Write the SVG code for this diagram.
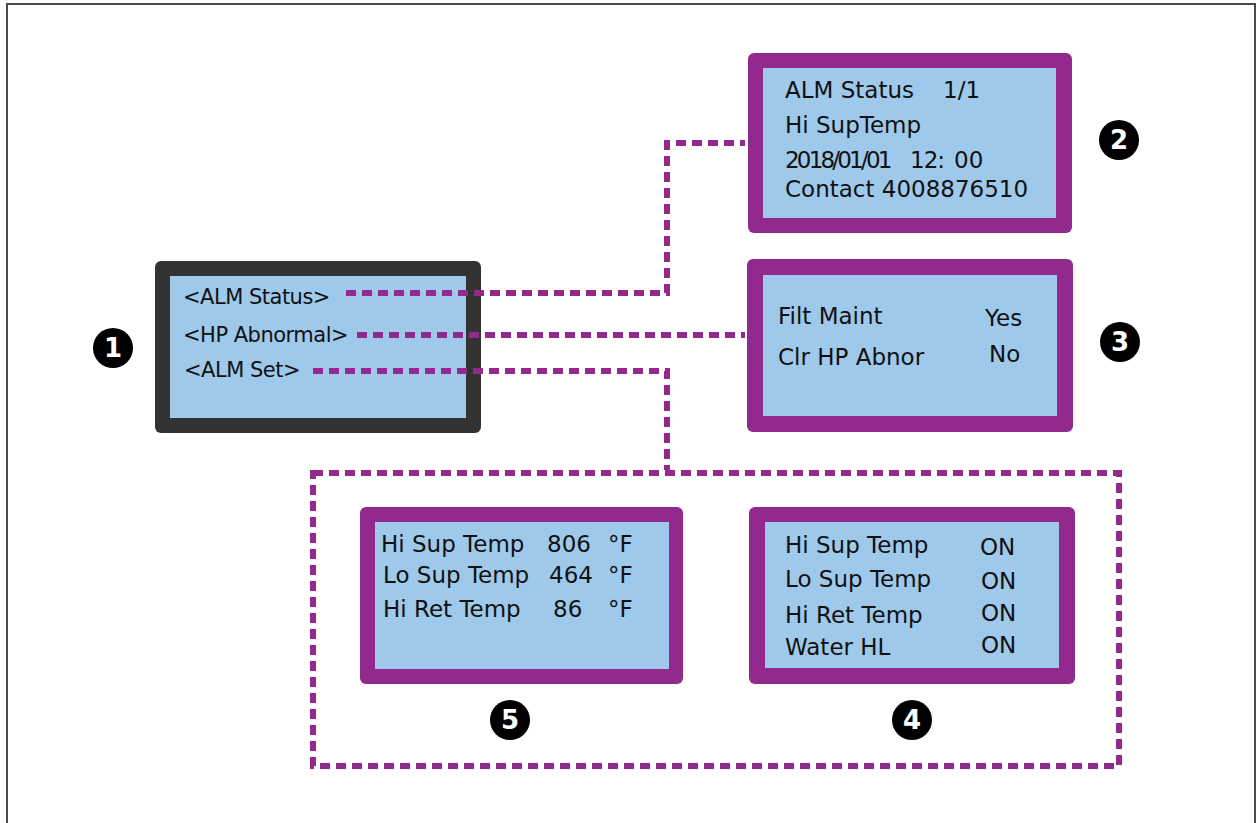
<svg xmlns="http://www.w3.org/2000/svg" width="1257" height="823" viewBox="0 0 1257 823">
<style>
.frame{fill:none;stroke:#4a4a4a;stroke-width:2}
.outer-p{fill:#92298C}
.outer-d{fill:#333333}
.screen{fill:#9FC9EB}
.lcd{font-family:"DejaVu Sans",sans-serif;font-size:23px;fill:#111}
.menu{font-size:21px;letter-spacing:-0.5px}
.dash{fill:none;stroke:#92298C;stroke-width:6;stroke-dasharray:10 6}
.badge{fill:#000}
.num{font-family:"DejaVu Sans",sans-serif;font-weight:bold;font-size:26px;fill:#fff;text-anchor:middle}
</style>
<rect class="frame" x="7" y="4" width="1248" height="840"/>
<g id="node1">
<rect class="outer-d" x="155" y="261" width="326" height="172" rx="6"/>
<rect class="screen" x="170" y="276" width="296" height="142"/>
<text class="lcd menu" x="183" y="304">&lt;ALM Status&gt;</text>
<text class="lcd menu" x="183" y="342">&lt;HP Abnormal&gt;</text>
<text class="lcd menu" x="184" y="377">&lt;ALM Set&gt;</text>
</g>
<g id="node2">
<rect class="outer-p" x="748" y="53" width="324" height="180" rx="6"/>
<rect class="screen" x="763" y="68" width="293" height="150"/>
<text class="lcd" x="785" y="98">ALM Status</text>
<text class="lcd" x="943" y="98">1/1</text>
<text class="lcd" x="785" y="133">Hi SupTemp</text>
<text class="lcd" x="785" y="168" letter-spacing="-2.8">2018/01/01</text>
<text class="lcd" x="910" y="168" letter-spacing="-1">12:</text>
<text class="lcd" x="954" y="168">00</text>
<text class="lcd" x="785" y="197">Contact 4008876510</text>
</g>
<g id="node3">
<rect class="outer-p" x="747" y="259" width="326" height="173" rx="6"/>
<rect class="screen" x="763" y="275" width="294" height="141"/>
<text class="lcd" x="778" y="324">Filt Maint</text>
<text class="lcd" x="985" y="326">Yes</text>
<text class="lcd" x="778" y="365">Clr HP Abnor</text>
<text class="lcd" x="989" y="362">No</text>
</g>
<g id="node5">
<rect class="outer-p" x="360" y="507" width="323" height="177" rx="6"/>
<rect class="screen" x="375" y="522" width="294" height="147"/>
<text class="lcd" x="381" y="552">Hi Sup Temp</text>
<text class="lcd" x="547" y="552">806</text>
<text class="lcd" x="608" y="552">°F</text>
<text class="lcd" x="383" y="583">Lo Sup Temp</text>
<text class="lcd" x="549" y="583">464</text>
<text class="lcd" x="608" y="583">°F</text>
<text class="lcd" x="383" y="617">Hi Ret Temp</text>
<text class="lcd" x="553" y="617">86</text>
<text class="lcd" x="608" y="617">°F</text>
</g>
<g id="node4">
<rect class="outer-p" x="749" y="507" width="326" height="177" rx="6"/>
<rect class="screen" x="765" y="522" width="294" height="146"/>
<text class="lcd" x="785" y="553">Hi Sup Temp</text>
<text class="lcd" x="980" y="555">ON</text>
<text class="lcd" x="785" y="587">Lo Sup Temp</text>
<text class="lcd" x="981" y="589">ON</text>
<text class="lcd" x="785" y="623">Hi Ret Temp</text>
<text class="lcd" x="981" y="621">ON</text>
<text class="lcd" x="785" y="655">Water HL</text>
<text class="lcd" x="981" y="653">ON</text>
</g>
<g id="connectors">
<path class="dash" d="M346,293 H667 V143 H745"/>
<path class="dash" d="M357,335 H745"/>
<path class="dash" d="M313,371 H667 V470"/>
<rect class="dash" x="313" y="473" width="806" height="293"/>
</g>
<g id="badge1"><circle class="badge" cx="113" cy="348" r="20"/><text class="num" x="113" y="357">1</text></g>
<g id="badge2"><circle class="badge" cx="1119" cy="140" r="20"/><text class="num" x="1119" y="149">2</text></g>
<g id="badge3"><circle class="badge" cx="1120" cy="342" r="20"/><text class="num" x="1120" y="351">3</text></g>
<g id="badge4"><circle class="badge" cx="912" cy="720" r="20"/><text class="num" x="912" y="729">4</text></g>
<g id="badge5"><circle class="badge" cx="510" cy="720" r="20"/><text class="num" x="510" y="729">5</text></g>
</svg>
